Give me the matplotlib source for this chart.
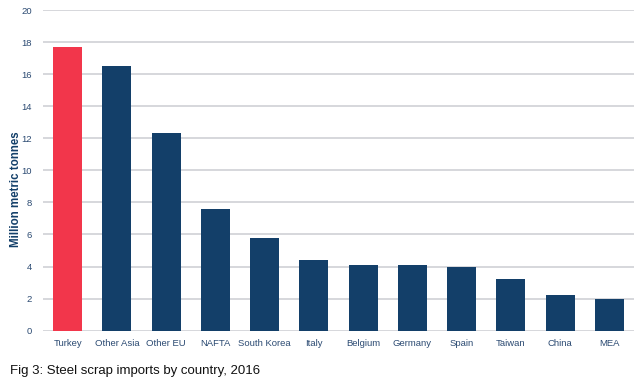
import matplotlib
matplotlib.use("Agg")
import matplotlib.pyplot as plt

categories = ["Turkey", "Other Asia", "Other EU", "NAFTA", "South Korea", "Italy",
              "Belgium", "Germany", "Spain", "Taiwan", "China", "MEA"]
values = [17.7, 16.5, 12.3, 7.6, 5.8, 4.4, 4.1, 4.1, 4.0, 3.2, 2.2, 2.0]
yticks = [0, 2, 4, 6, 8, 10, 12, 14, 16, 18, 20]

plt.rcParams['font.family'] = ['Liberation Sans', 'DejaVu Sans']
navy = "#133f69"
red = "#f2364b"
txt = "#2b4a72"

fig = plt.figure(figsize=(6.44, 3.86), dpi=100)
ax = fig.add_axes([0.0668, 0.1433, 0.9177, 0.8307])
colors = [red] + [navy] * (len(categories) - 1)
x = range(len(categories))
ax.bar(x, values, width=0.59, color=colors, zorder=3)
ax.set_xlim(-0.5, len(categories) - 0.5)
ax.set_ylim(0, 20)
ax.set_yticks(yticks)
ax.set_xticks(list(x))
ax.set_xticklabels(categories)
ax.yaxis.grid(True, color="#d3d4d9", linewidth=1.3, zorder=0)
for s in ax.spines.values():
    s.set_visible(False)
ax.tick_params(axis='both', length=0, labelsize=6.8, labelcolor=txt)
ax.tick_params(axis='y', pad=8)
ax.tick_params(axis='x', pad=6)
ax.set_ylabel("Million metric tonnes", fontsize=8.3, color=navy, fontweight='bold')
ax.yaxis.set_label_coords(-0.036, 0.44)
fig.text(10/644, 1 - 371/386, "Fig 3: Steel scrap imports by country, 2016", fontsize=9.5,
         color="#111111", va='center', ha='left')
fig.savefig("out.png", dpi=100)
